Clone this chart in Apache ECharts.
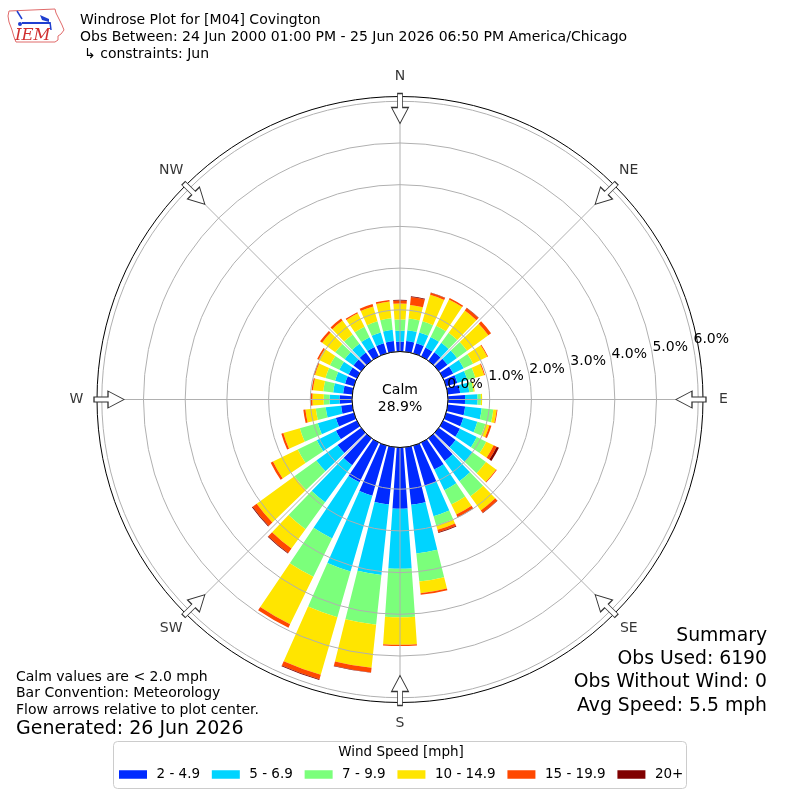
<!DOCTYPE html>
<html>
<head>
<meta charset="utf-8">
<script src="https://cdn.jsdelivr.net/npm/echarts@6.0.0/dist/echarts.min.js"></script>
<style>
html,body{margin:0;padding:0;background:#fff;}
#chart{width:800px;height:800px;}
</style>
</head>
<body>
<div id="chart"></div>
<script>
// ---------------- DATA ----------------
const directions = [0,10,20,30,40,50,60,70,80,90,100,110,120,130,140,150,160,170,
                    180,190,200,210,220,230,240,250,260,270,280,290,300,310,320,330,340,350];
// frequency (%) per direction for each speed bin
const speed2to4 = [0.24,0.26,0.25,0.24,0.25,0.26,0.27,0.28,0.30,0.41,0.42,0.43,0.45,0.50,0.67,0.72,1.00,1.39,
                   1.47,1.38,1.25,1.06,0.80,0.70,0.56,0.45,0.27,0.30,0.22,0.22,0.22,0.23,0.24,0.25,0.25,0.26];
const speed5to6 = [0.26,0.26,0.27,0.28,0.28,0.28,0.28,0.25,0.22,0.30,0.40,0.35,0.45,0.50,0.60,0.55,0.76,1.17,
                   1.44,1.70,1.89,1.50,1.10,0.63,0.51,0.45,0.37,0.24,0.24,0.25,0.25,0.26,0.26,0.26,0.27,0.27];
const speed7to9 = [0.27,0.28,0.28,0.30,0.30,0.30,0.25,0.20,0.10,0.08,0.28,0.20,0.25,0.40,0.45,0.38,0.23,0.68,
                   1.16,1.20,1.14,1.02,0.80,0.65,0.51,0.45,0.24,0.14,0.24,0.24,0.25,0.28,0.28,0.28,0.28,0.28];
const speed10to14 = [0.38,0.33,0.66,0.70,0.66,0.63,0.38,0.22,0.03,0.03,0.08,0.10,0.20,0.30,0.42,0.27,0.11,0.28,
                     0.66,1.04,1.44,1.27,0.57,1.12,0.66,0.41,0.25,0.27,0.25,0.26,0.30,0.39,0.41,0.36,0.37,0.40];
const speed15to19 = [0.07,0.19,0.05,0.04,0.07,0.08,0.02,0.02,0.00,0.00,0.02,0.05,0.08,0.02,0.07,0.07,0.06,0.04,
                     0.03,0.11,0.11,0.09,0.13,0.12,0.06,0.05,0.05,0.05,0.03,0.03,0.04,0.06,0.06,0.03,0.06,0.04];
const speed20plus = [0.02,0.02,0.01,0.00,0.01,0.00,0.00,0.00,0.00,0.00,0.00,0.00,0.06,0.00,0.01,0.01,0.02,0.00,
                     0.00,0.01,0.02,0.00,0.02,0.02,0.00,0.00,0.00,0.00,0.00,0.00,0.00,0.00,0.00,0.00,0.00,0.00];
const speedBins = ['2 - 4.9','5 - 6.9','7 - 9.9','10 - 14.9','15 - 19.9','20+'];
const binColors = ['#002aff','#00d4ff','#7bff7b','#ffe500','#ff4800','#800000'];
const ringLabels = ['0.0%','1.0%','2.0%','3.0%','4.0%','5.0%','6.0%'];
const compassNames = ['N','NE','E','SE','S','SW','W','NW'];
const compassAngles = [0,45,90,135,180,225,270,315];
const calmText = ['Calm','28.9%'];
const titleLines = ['Windrose Plot for [M04] Covington',
  'Obs Between: 24 Jun 2000 01:00 PM - 25 Jun 2026 06:50 PM America/Chicago',
  '\u21b3 constraints: Jun'];
const noteLines = ['Calm values are < 2.0 mph','Bar Convention: Meteorology','Flow arrows relative to plot center.'];
const generatedText = 'Generated: 26 Jun 2026';
const summaryLines = ['Summary','Obs Used: 6190','Obs Without Wind: 0','Avg Speed: 5.5 mph'];

// ---------------- LAYOUT ----------------
const FONT = 'DejaVu Sans';
const CENTER = [400, 399.5];
const RADII = [48, 303];
const RMAX = 6.115;
const ARROW_R = 5.827;
const LABEL_R = 6.607;
const binArrays = [speed2to4, speed5to6, speed7to9, speed10to14, speed15to19, speed20plus];

const chart = echarts.init(document.getElementById('chart'), null, {renderer:'canvas'});

const barSeries = speedBins.map((name, i) => ({
  type: 'bar', name: name, coordinateSystem: 'polar', polarIndex: 0,
  stack: 'wind', data: binArrays[i], barCategoryGap: '21%',
  itemStyle: { color: binColors[i] }, z: 2, silent: true
}));

const arrowPath = 'path://M6,0 L11,0 L11,14 L17,14 L8.5,30 L0,14 L6,14 Z';

const option = {
  animation: false,
  textStyle: { fontFamily: FONT },
  polar: [
    { center: CENTER, radius: RADII },
    { center: CENTER, radius: RADII },
    { center: CENTER, radius: RADII }
  ],
  angleAxis: [
    { polarIndex: 0, type: 'category', data: directions.map(d => d + '\u00b0'), startAngle: 95,
      clockwise: true, boundaryGap: true, show: false },
    { polarIndex: 1, type: 'value', min: 0, max: 360, interval: 45, startAngle: 90, clockwise: true, z: 5,
      axisLine: { show: true, lineStyle: { color: '#000', width: 1 } },
      axisTick: { show: false }, axisLabel: { show: false },
      splitLine: { show: true, lineStyle: { color: '#b0b0b0', width: 1 } } },
    { polarIndex: 2, type: 'value', min: 0, max: 360, startAngle: 10.2, clockwise: true, show: false }
  ],
  radiusAxis: [
    { polarIndex: 0, type: 'value', min: 0, max: RMAX, show: false },
    { polarIndex: 1, type: 'value', min: 0, max: RMAX, interval: 1, z: 5,
      axisLine: { show: false }, axisTick: { show: false }, axisLabel: { show: false },
      splitLine: { show: true, lineStyle: { width: 1,
        color: ['#b0b0b0','#b0b0b0','#b0b0b0','#b0b0b0','#b0b0b0','#b0b0b0','#b0b0b0','rgba(0,0,0,0)'] } } },
    { polarIndex: 2, type: 'value', min: 0, max: RMAX, interval: 1, z: 6,
      axisLine: { show: false }, axisTick: { show: false }, splitLine: { show: false },
      axisLabel: { show: true, margin: 0, align: 'left', verticalAlign: 'bottom',
        fontSize: 14, color: '#000', fontFamily: FONT,
        formatter: v => (Math.abs(v - Math.round(v)) < 1e-6 && ringLabels[Math.round(v)]) ? ringLabels[Math.round(v)] : '' } }
  ],
  legend: {
    data: speedBins, left: 119, top: 767.5, icon: 'rect', itemWidth: 28, itemHeight: 8.5, itemGap: 11.8,
    selectedMode: false, padding: 0,
    textStyle: { fontSize: 13.5, color: '#000', fontFamily: FONT, padding: [0,0,0,4.5] }
  },
  series: barSeries.concat([
    { type: 'scatter', coordinateSystem: 'polar', polarIndex: 1, silent: true, z: 10, clip: false,
      symbol: arrowPath, symbolSize: [17, 30],
      itemStyle: { color: '#fff', borderColor: '#333', borderWidth: 1, opacity: 1 },
      data: compassAngles.map(a => ({ value: [ARROW_R, a], symbolRotate: -a })) },
    { type: 'scatter', coordinateSystem: 'polar', polarIndex: 1, silent: true, z: 10, clip: false,
      symbolSize: 0,
      label: { show: true, position: 'inside', formatter: '{b}', color: '#000', fontSize: 14, fontFamily: FONT },
      data: compassAngles.map((a, i) => ({ name: compassNames[i], value: [LABEL_R, a] })) }
  ]),
  graphic: [
    // legend frame and title
    { type: 'rect', z: 0, shape: { x: 113.5, y: 741.5, width: 573, height: 47, r: 4 },
      style: { fill: '#fff', stroke: '#cccccc', lineWidth: 1 } },
    { type: 'text', z: 5, x: 401, y: 752.5, style: { text: 'Wind Speed [mph]', fontSize: 13.5, fontFamily: FONT, fill: '#000', align: 'center', verticalAlign: 'middle' } },
    // calm text
    { type: 'text', z: 20, x: 400, y: 390, style: { text: calmText[0], fontSize: 14, fontFamily: FONT, fill: '#000', align: 'center', verticalAlign: 'middle' } },
    { type: 'text', z: 20, x: 400, y: 407, style: { text: calmText[1], fontSize: 14, fontFamily: FONT, fill: '#000', align: 'center', verticalAlign: 'middle' } },
    // header
    { type: 'text', x: 80, y: 20, style: { text: titleLines[0], fontSize: 14, fontFamily: FONT, fill: '#000', align: 'left', verticalAlign: 'middle' } },
    { type: 'text', x: 80, y: 37.5, style: { text: titleLines[1], fontSize: 14, fontFamily: FONT, fill: '#000', align: 'left', verticalAlign: 'middle' } },
    { type: 'text', x: 84, y: 54, style: { text: titleLines[2], fontSize: 14, fontFamily: FONT, fill: '#000', align: 'left', verticalAlign: 'middle' } },
    // notes bottom-left
    { type: 'text', x: 16, y: 677, style: { text: noteLines[0], fontSize: 14, fontFamily: FONT, fill: '#000', align: 'left', verticalAlign: 'middle' } },
    { type: 'text', x: 16, y: 693.5, style: { text: noteLines[1], fontSize: 14, fontFamily: FONT, fill: '#000', align: 'left', verticalAlign: 'middle' } },
    { type: 'text', x: 16, y: 710.5, style: { text: noteLines[2], fontSize: 14, fontFamily: FONT, fill: '#000', align: 'left', verticalAlign: 'middle' } },
    { type: 'text', x: 16, y: 729, style: { text: generatedText, fontSize: 19, fontFamily: FONT, fill: '#000', align: 'left', verticalAlign: 'middle' } },
    // summary bottom-right
    { type: 'text', x: 767, y: 636, style: { text: summaryLines[0], fontSize: 18.8, fontFamily: FONT, fill: '#000', align: 'right', verticalAlign: 'middle' } },
    { type: 'text', x: 767, y: 659, style: { text: summaryLines[1], fontSize: 18.8, fontFamily: FONT, fill: '#000', align: 'right', verticalAlign: 'middle' } },
    { type: 'text', x: 767, y: 682.5, style: { text: summaryLines[2], fontSize: 18.8, fontFamily: FONT, fill: '#000', align: 'right', verticalAlign: 'middle' } },
    { type: 'text', x: 767, y: 706, style: { text: summaryLines[3], fontSize: 18.8, fontFamily: FONT, fill: '#000', align: 'right', verticalAlign: 'middle' } },
    // IEM logo
    { type: 'polyline', shape: { points: [[9,11],[55,9],[56,13],[59,19],[62,25],[64,30],[61,34],[58,36],[58,40],[55,42],[16,42],[14,37],[12,30],[9,22],[8,16],[9,11]] },
      style: { stroke: '#e06a6a', lineWidth: 1, fill: null } },
    { type: 'text', x: 15, y: 36, style: { text: 'IEM', fontSize: 16.5, fontStyle: 'italic', fontFamily: 'DejaVu Serif', fill: '#d03030', align: 'left', verticalAlign: 'middle' } },
    { type: 'line', shape: { x1: 22, y1: 23, x2: 50, y2: 23 }, style: { stroke: '#1f3fd0', lineWidth: 2 } },
    { type: 'polygon', shape: { points: [[40,15],[49,19],[49,22],[42,20]] }, style: { fill: '#1f3fd0' } },
    { type: 'line', shape: { x1: 50, y1: 22, x2: 51, y2: 30 }, style: { stroke: '#1f3fd0', lineWidth: 1.5 } },
    { type: 'line', shape: { x1: 17, y1: 11, x2: 22, y2: 19 }, style: { stroke: '#1f3fd0', lineWidth: 1.5 } },
    { type: 'circle', shape: { cx: 20, cy: 24, r: 2 }, style: { fill: '#1f3fd0' } }
  ]
};
chart.setOption(option);
</script>
</body>
</html>
